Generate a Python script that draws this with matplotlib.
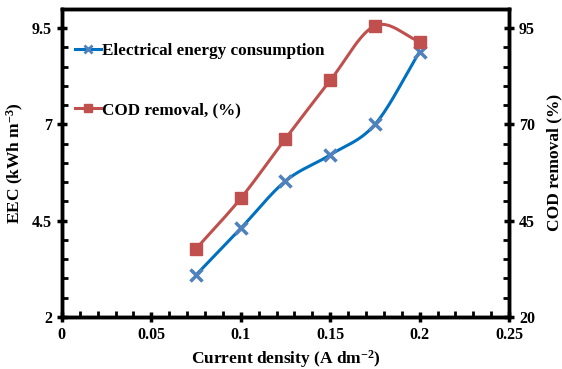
import numpy as np
import matplotlib
matplotlib.use("Agg")
import matplotlib.pyplot as plt
from matplotlib.ticker import MultipleLocator
from matplotlib.lines import Line2D

plt.rcParams['font.family'] = ['Liberation Serif', 'DejaVu Serif']
plt.rcParams['font.weight'] = 'bold'
plt.rcParams['mathtext.fontset'] = 'custom'
plt.rcParams['mathtext.rm'] = 'Liberation Serif:bold'
plt.rcParams['mathtext.bf'] = 'Liberation Serif:bold'
plt.rcParams['mathtext.default'] = 'bf'

current = [0.075, 0.1, 0.125, 0.15, 0.175, 0.2]
eec = [3.09, 4.30, 5.53, 6.21, 7.0, 8.89]
cod = [37.7, 50.8, 66.3, 81.4, 95.6, 91.5]


def smooth(x, y, n=30):
    # catmull-rom curve through the points, like excel's smoothed lines
    x = np.asarray(x, float)
    y = np.asarray(y, float)
    px = np.concatenate([[2 * x[0] - x[1]], x, [2 * x[-1] - x[-2]]])
    py = np.concatenate([[2 * y[0] - y[1]], y, [2 * y[-1] - y[-2]]])
    xs, ys = [], []
    t = np.linspace(0, 1, n)
    for i in range(1, len(px) - 2):
        for p, out in ((px, xs), (py, ys)):
            p0, p1, p2, p3 = p[i - 1], p[i], p[i + 1], p[i + 2]
            out.extend(0.5 * ((2 * p1) + (-p0 + p2) * t
                              + (2 * p0 - 5 * p1 + 4 * p2 - p3) * t ** 2
                              + (-p0 + 3 * p1 - 3 * p2 + p3) * t ** 3))
    return xs, ys


fig = plt.figure(figsize=(5.62, 3.69), dpi=100)
ax = fig.add_axes([0.110, 0.141, 0.796, 0.835])
ax2 = ax.twinx()

blue_line = '#0070C0'
blue_mark = '#4F81BD'
red = '#C0504D'

sx, sy = smooth(current, eec)
ax.plot(sx, sy, color=blue_line, lw=2.2, zorder=2)
ax.plot(current, eec, ls='none', marker='x', ms=8, mew=2.5, color=blue_mark, zorder=3)

sx, sy = smooth(current, cod)
ax2.plot(sx, sy, color=red, lw=2.2, zorder=2)
ax2.plot(current, cod, ls='none', marker='s', ms=8, color=red, zorder=3)

ax.set_xlim(0, 0.25)
ax.set_ylim(2, 10)
ax2.set_ylim(20, 100)
ax.set_xticks([0, 0.05, 0.1, 0.15, 0.2, 0.25])
ax.set_xticklabels(['0', '0.05', '0.1', '0.15', '0.2', '0.25'])
ax.set_yticks([2, 4.5, 7, 9.5])
ax.set_yticklabels(['2', '4.5', '7', '9.5'])
ax2.set_yticks([20, 45, 70, 95])
ax.xaxis.set_minor_locator(MultipleLocator(0.01))
ax.yaxis.set_minor_locator(MultipleLocator(0.5))
ax2.yaxis.set_minor_locator(MultipleLocator(5))

for a in (ax, ax2):
    for s in a.spines.values():
        s.set_linewidth(2.5)
    a.tick_params(which='major', direction='inout', length=7, width=2.5, labelsize=11.5)
    a.tick_params(which='minor', direction='in', length=4, width=2)

ax.set_xlabel('Current density (A dm$^{-2}$)', fontsize=12.5, fontweight='bold')
ax.set_ylabel('EEC (kWh m$^{-3}$)', fontsize=12.5, fontweight='bold')
ax2.set_ylabel('COD removal (%)', fontsize=12.5, fontweight='bold', labelpad=8)

handles = [Line2D([], [], color=blue_line, lw=2.2, marker='x', ms=6, mew=2, mec=blue_mark),
           Line2D([], [], color=red, lw=2.2, marker='s', ms=6)]
ax.legend(handles, ['Electrical energy consumption', 'COD removal, (%)'],
          loc='upper left', bbox_to_anchor=(-0.005, 0.94), frameon=False,
          handlelength=1.5, handletextpad=0.1, labelspacing=2.55,
          prop={'weight': 'bold', 'size': 12.3})

fig.savefig('out.png', dpi=100)
